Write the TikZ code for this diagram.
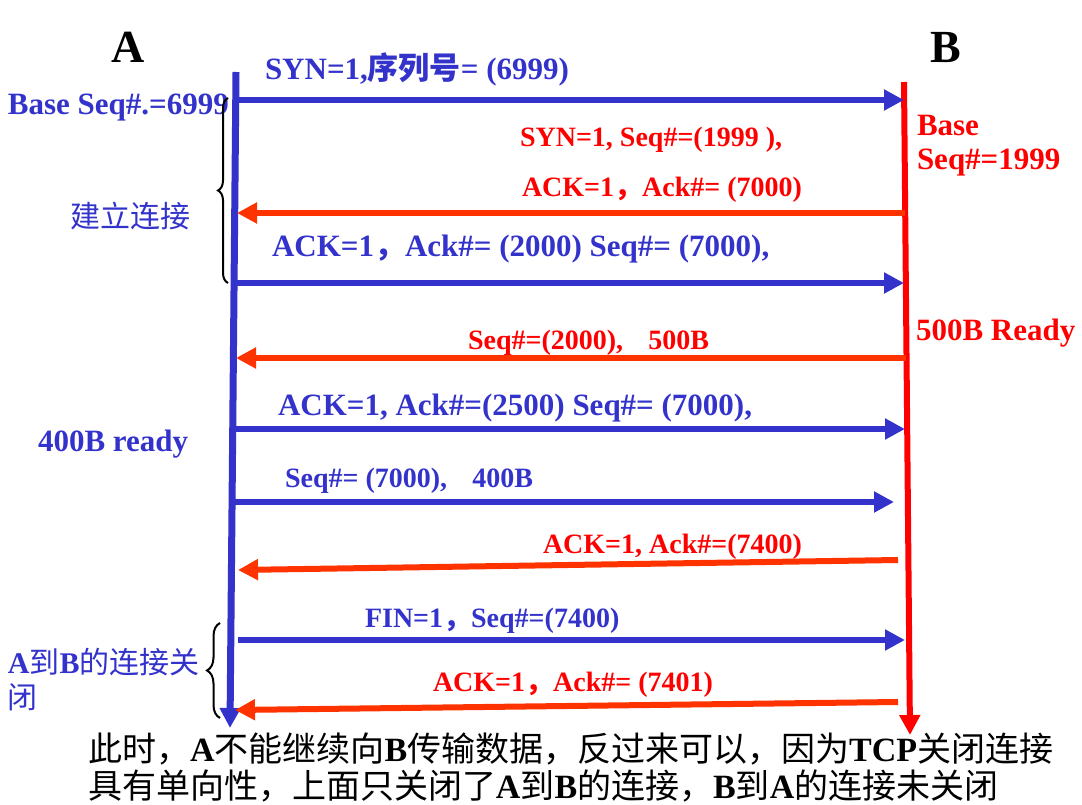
\documentclass[tikz,border=0pt]{standalone}
\usepackage{fontspec}
\setmainfont{Liberation Serif}
\newfontfamily\cjk{Noto Sans CJK SC}
\usetikzlibrary{arrows.meta,decorations.pathreplacing}
\definecolor{myblue}{RGB}{51,51,204}
\definecolor{arrred}{RGB}{255,51,0}
\definecolor{txtred}{RGB}{255,0,0}
\newcommand\fsz[1]{\fontsize{#1}{#1}\selectfont}
\tikzset{
  lab/.style={anchor=base west, inner sep=0pt, outer sep=0pt},
  blab/.style={lab, text=myblue, font=\bfseries\fsz{31}},
  blabs/.style={lab, text=myblue, font=\bfseries\fsz{28}},
  rlab/.style={lab, text=txtred, font=\bfseries\fsz{28}},
  rlabb/.style={lab, text=txtred, font=\bfseries\fsz{31}},
  barr/.style={draw=myblue, line width=6pt, -{Triangle[length=20pt,width=20pt]}},
  rarr/.style={draw=arrred, line width=6pt, -{Triangle[length=20pt,width=20pt]}},
  bracestyle/.style={draw=black, line width=2pt, decorate},
}
\begin{document}
\begin{tikzpicture}[x=1pt,y=-1pt]
\useasboundingbox[fill=white] (0,0) rectangle (1082,805);
% lifelines
\coordinate (Atop) at (236,72);
\coordinate (Abot) at (230,728);
\coordinate (Btop) at (904,82);
\coordinate (Bbot) at (910,735);
\draw[draw=myblue, line width=7pt, -{Triangle[length=20pt,width=20pt]}] (Atop) -- (Abot);
\draw[draw=txtred, line width=6pt, -{Triangle[length=20pt,width=20pt]}] (Btop) -- (Bbot);
% titles
\node[anchor=base, inner sep=0pt, font=\bfseries\fsz{46}] (tA) at (128,63) {A};
\node[anchor=base, inner sep=0pt, font=\bfseries\fsz{46}] (tB) at (946,63) {B};
% messages
\coordinate (a1) at (236,100); \coordinate (b1) at (904,100);
\coordinate (b2) at (905,213); \coordinate (a2) at (237,213);
\coordinate (a3) at (235,283); \coordinate (b3) at (904,283);
\coordinate (b4) at (906,358); \coordinate (a4) at (236,358);
\coordinate (a5) at (234,429); \coordinate (b5) at (905,429);
\coordinate (a6) at (234,502); \coordinate (b6) at (894,502);
\coordinate (b7) at (898,560); \coordinate (a7) at (238,570);
\coordinate (a8) at (238,640); \coordinate (b8) at (905,640);
\coordinate (b9) at (898,702); \coordinate (a9) at (235,710);
\draw[barr] (a1) -- (b1);
\draw[rarr] (b2) -- (a2);
\draw[barr] (a3) -- (b3);
\draw[rarr] (b4) -- (a4);
\draw[barr] (a5) -- (b5);
\draw[barr] (a6) -- (b6);
\draw[rarr] (b7) -- (a7);
\draw[barr] (a8) -- (b8);
\draw[rarr] (b9) -- (a9);
% message labels
\node[blab] (m1) at (265,80) {SYN=1,{\cjk 序列号}= (6999)};
\node[rlab] (m2a) at (520,147) {SYN=1, Seq\#=(1999 ),};
\node[rlab] (m2b) at (522,197) {ACK=1{\cjk ，}Ack\#= (7000)};
\node[blab] (m3) at (272,257) {ACK=1{\cjk ，}Ack\#= (2000) Seq\#= (7000),};
\node[rlab] (m4) at (468,349) {Seq\#=(2000),\hspace{0.9em}500B};
\node[blab] (m5) at (278,415) {ACK=1, Ack\#=(2500) Seq\#= (7000),};
\node[blabs] (m6) at (285,487) {Seq\#= (7000),\hspace{0.9em}400B};
\node[rlab] (m7) at (543,553) {ACK=1, Ack\#=(7400)};
\node[blabs] (m8) at (365,627) {FIN=1{\cjk ，}Seq\#=(7400)};
\node[rlab] (m9) at (433,691) {ACK=1{\cjk ，}Ack\#= (7401)};
% side labels
\node[blab] (l1) at (8,115) {Base Seq\#.=6999};
\node[lab, text=myblue, font=\fsz{30}] (l2) at (70,228) {\cjk 建立连接};
\node[blab] (l3) at (38,451) {400B ready};
\node[lab, text=myblue, font=\fsz{30}] (l4) at (8,673) {{\bfseries A}{\cjk 到}{\bfseries B}{\cjk 的连接关}};
\node[lab, text=myblue, font=\fsz{30}] (l5) at (8,708) {\cjk 闭};
\node[rlabb] (r1) at (917,136) {Base};
\node[rlabb] (r2) at (917,170) {Seq\#=1999};
\node[rlabb] (r3) at (916,340) {500B Ready};
% braces
\coordinate (br1a) at (228,283); \coordinate (br1b) at (228,98);
\draw[bracestyle, decoration={brace, amplitude=10pt}] (br1a) -- (br1b);
\coordinate (br2a) at (220,718); \coordinate (br2b) at (220,623);
\draw[bracestyle, decoration={brace, amplitude=13pt}] (br2a) -- (br2b);
% bottom text
\node[lab, font=\fsz{34}] (n1) at (88,761) {{\cjk 此时，}{\bfseries A}{\cjk 不能继续向}{\bfseries B}{\cjk 传输数据，反过来可以，因为}{\bfseries TCP}{\cjk 关闭连接}};
\node[lab, font=\fsz{34}] (n2) at (88,798) {{\cjk 具有单向性，上面只关闭了}{\bfseries A}{\cjk 到}{\bfseries B}{\cjk 的连接，}{\bfseries B}{\cjk 到}{\bfseries A}{\cjk 的连接未关闭}};
\end{tikzpicture}
\end{document}
